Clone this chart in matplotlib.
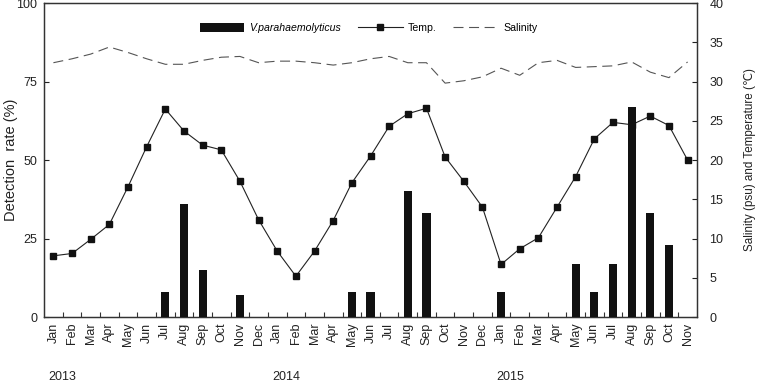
import numpy as np
import matplotlib
matplotlib.use('Agg')
import matplotlib.pyplot as plt
import matplotlib.transforms as mtransforms
from matplotlib.patches import Patch
from matplotlib.lines import Line2D

plt.rcParams['font.family'] = ['Liberation Sans', 'DejaVu Sans']

months = ['Jan', 'Feb', 'Mar', 'Apr', 'May', 'Jun', 'Jul', 'Aug', 'Sep', 'Oct', 'Nov', 'Dec',
          'Jan', 'Feb', 'Mar', 'Apr', 'May', 'Jun', 'Jul', 'Aug', 'Sep', 'Oct', 'Nov', 'Dec',
          'Jan', 'Feb', 'Mar', 'Apr', 'May', 'Jun', 'Jul', 'Aug', 'Sep', 'Oct', 'Nov']
years = ['2013', '2014', '2015']

# detection rate of V. parahaemolyticus (%)
detection = [0, 0, 0, 0, 0, 0, 8, 36, 15, 0, 7, 0,
             0, 0, 0, 0, 8, 8, 0, 40, 33, 0, 0, 0,
             8, 0, 0, 0, 17, 8, 17, 67, 33, 23, 0]

# water temperature (C)
temp = [7.8, 8.1, 9.9, 11.8, 16.6, 21.7, 26.5, 23.7, 21.9, 21.3, 17.3, 12.4,
        8.4, 5.2, 8.4, 12.3, 17.1, 20.5, 24.3, 25.9, 26.6, 20.4, 17.3, 14.0,
        6.7, 8.7, 10.1, 14.0, 17.9, 22.7, 24.8, 24.5, 25.6, 24.4, 20.0]

# salinity (psu)
salinity = [32.4, 32.9, 33.5, 34.4, 33.7, 32.9, 32.2, 32.2, 32.7, 33.1, 33.2, 32.4,
            32.6, 32.6, 32.4, 32.1, 32.4, 32.9, 33.2, 32.4, 32.4, 29.8, 30.1, 30.6,
            31.7, 30.8, 32.4, 32.7, 31.8, 31.9, 32.0, 32.5, 31.2, 30.5, 32.5]

x = np.arange(len(months))

fig = plt.figure(figsize=(7.6, 3.82), dpi=100)
ax = fig.add_axes([0.058, 0.17, 0.859, 0.822])
ax2 = ax.twinx()

# bars drawn above the lines
ax.set_zorder(ax2.get_zorder() + 1)
ax.patch.set_visible(False)

ax.bar(x, detection, width=0.44, color='#111111', zorder=3)
ax2.plot(x, temp, color='#222222', lw=0.8, marker='s', ms=4.2, mfc='#111111', mec='#111111')
ax2.plot(x, salinity, color='#555555', lw=0.8, dashes=(9, 5))

ax.set_xlim(-0.5, len(months) - 0.5)
ax.set_ylim(0, 100)
ax2.set_ylim(0, 40)
ax.set_yticks([0, 25, 50, 75, 100])
ax2.set_yticks(np.arange(0, 41, 5))

ax.set_xticks(x)
ax.set_xticklabels(months, rotation=90, fontsize=9, color='#222222')
ax.set_xticks(x[:-1] + 0.5, minor=True)
ax.tick_params(axis='x', which='major', length=0, pad=4)
ax.tick_params(axis='x', which='minor', direction='in', length=3.5, width=0.8, color='#333333')
ax.tick_params(axis='y', direction='in', length=3.5, width=0.8, labelsize=9, pad=5,
               colors='#222222')
ax2.tick_params(axis='y', direction='in', length=3.5, width=0.8, labelsize=9, pad=9,
                colors='#222222')
for a in (ax, ax2):
    for s in a.spines.values():
        s.set_color('#333333')
        s.set_linewidth(0.9)

ax.set_ylabel('Detection  rate (%)', fontsize=10.5, color='#222222')
ax.yaxis.set_label_coords(-0.04, 0.5)
ax2.set_ylabel('Salinity (psu) and Temperature (\u2103)', fontsize=8.4, color='#222222')
ax2.yaxis.set_label_coords(1.072, 0.5)

# year labels under the first month of each year
trans = mtransforms.blended_transform_factory(ax.transData, fig.transFigure)
starts = [i for i, m in enumerate(months) if m == 'Jan']
for yr, s in zip(years, starts):
    ax.text(s + 0.5, 0.006, yr, transform=trans, ha='center', va='baseline',
            fontsize=9, color='#222222')

handles = [Patch(facecolor='#111111', edgecolor='none'),
           Line2D([], [], color='#222222', lw=0.8, marker='s', ms=4.2, mfc='#111111', mec='#111111'),
           Line2D([], [], color='#555555', lw=0.8, dashes=(9, 5))]
labels = ['V.parahaemolyticus', 'Temp.', 'Salinity']
leg = ax.legend(handles, labels, loc='center', bbox_to_anchor=(0.497, 0.92), ncol=3,
                frameon=False, fontsize=7.6, handlelength=4.2, handleheight=0.8,
                columnspacing=1.6, handletextpad=0.5)
leg.get_texts()[0].set_style('italic')

fig.savefig('out.png', dpi=100)
